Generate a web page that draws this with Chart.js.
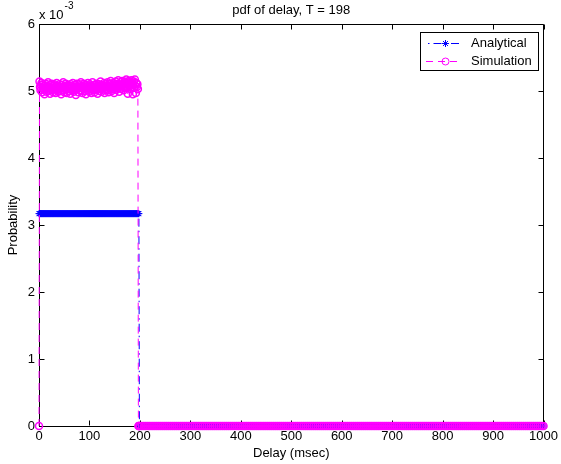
<!DOCTYPE html>
<html>
<head>
<meta charset="utf-8">
<title>pdf of delay</title>
<script src="https://cdn.jsdelivr.net/npm/chart.js@4.4.1/dist/chart.umd.min.js"></script>
<style>
  html, body { margin: 0; padding: 0; background: #fff; }
  #chart { display: block; }
</style>
</head>
<body>
<canvas id="chart" width="561" height="464"></canvas>
<script>
// === DATA ===
// delay in msec (1 ms steps up to T, 4 ms steps after)
const delayMs = [
  0, 1, 2, 3, 4, 5, 6, 7, 8, 9, 10, 11, 12, 13, 14, 15, 16, 17, 18, 19,
  20, 21, 22, 23, 24, 25, 26, 27, 28, 29, 30, 31, 32, 33, 34, 35, 36, 37, 38, 39,
  40, 41, 42, 43, 44, 45, 46, 47, 48, 49, 50, 51, 52, 53, 54, 55, 56, 57, 58, 59,
  60, 61, 62, 63, 64, 65, 66, 67, 68, 69, 70, 71, 72, 73, 74, 75, 76, 77, 78, 79,
  80, 81, 82, 83, 84, 85, 86, 87, 88, 89, 90, 91, 92, 93, 94, 95, 96, 97, 98, 99,
  100, 101, 102, 103, 104, 105, 106, 107, 108, 109, 110, 111, 112, 113, 114, 115, 116, 117, 118, 119,
  120, 121, 122, 123, 124, 125, 126, 127, 128, 129, 130, 131, 132, 133, 134, 135, 136, 137, 138, 139,
  140, 141, 142, 143, 144, 145, 146, 147, 148, 149, 150, 151, 152, 153, 154, 155, 156, 157, 158, 159,
  160, 161, 162, 163, 164, 165, 166, 167, 168, 169, 170, 171, 172, 173, 174, 175, 176, 177, 178, 179,
  180, 181, 182, 183, 184, 185, 186, 187, 188, 189, 190, 191, 192, 193, 194, 195, 196, 197, 198, 199,
  200, 204, 208, 212, 216, 220, 224, 228, 232, 236, 240, 244, 248, 252, 256, 260, 264, 268, 272, 276, 280, 284, 288, 292, 296,
  300, 304, 308, 312, 316, 320, 324, 328, 332, 336, 340, 344, 348, 352, 356, 360, 364, 368, 372, 376, 380, 384, 388, 392, 396,
  400, 404, 408, 412, 416, 420, 424, 428, 432, 436, 440, 444, 448, 452, 456, 460, 464, 468, 472, 476, 480, 484, 488, 492, 496,
  500, 504, 508, 512, 516, 520, 524, 528, 532, 536, 540, 544, 548, 552, 556, 560, 564, 568, 572, 576, 580, 584, 588, 592, 596,
  600, 604, 608, 612, 616, 620, 624, 628, 632, 636, 640, 644, 648, 652, 656, 660, 664, 668, 672, 676, 680, 684, 688, 692, 696,
  700, 704, 708, 712, 716, 720, 724, 728, 732, 736, 740, 744, 748, 752, 756, 760, 764, 768, 772, 776, 780, 784, 788, 792, 796,
  800, 804, 808, 812, 816, 820, 824, 828, 832, 836, 840, 844, 848, 852, 856, 860, 864, 868, 872, 876, 880, 884, 888, 892, 896,
  900, 904, 908, 912, 916, 920, 924, 928, 932, 936, 940, 944, 948, 952, 956, 960, 964, 968, 972, 976, 980, 984, 988, 992, 996,
  1000
];

// probabilities, in units of 1e-3 (axis shows "x 10^-3")
const analytical = [
  3.17, 3.17, 3.17, 3.17, 3.17, 3.17, 3.17, 3.17, 3.17, 3.17, 3.17, 3.17, 3.17, 3.17, 3.17, 3.17, 3.17, 3.17, 3.17, 3.17,
  3.17, 3.17, 3.17, 3.17, 3.17, 3.17, 3.17, 3.17, 3.17, 3.17, 3.17, 3.17, 3.17, 3.17, 3.17, 3.17, 3.17, 3.17, 3.17, 3.17,
  3.17, 3.17, 3.17, 3.17, 3.17, 3.17, 3.17, 3.17, 3.17, 3.17, 3.17, 3.17, 3.17, 3.17, 3.17, 3.17, 3.17, 3.17, 3.17, 3.17,
  3.17, 3.17, 3.17, 3.17, 3.17, 3.17, 3.17, 3.17, 3.17, 3.17, 3.17, 3.17, 3.17, 3.17, 3.17, 3.17, 3.17, 3.17, 3.17, 3.17,
  3.17, 3.17, 3.17, 3.17, 3.17, 3.17, 3.17, 3.17, 3.17, 3.17, 3.17, 3.17, 3.17, 3.17, 3.17, 3.17, 3.17, 3.17, 3.17, 3.17,
  3.17, 3.17, 3.17, 3.17, 3.17, 3.17, 3.17, 3.17, 3.17, 3.17, 3.17, 3.17, 3.17, 3.17, 3.17, 3.17, 3.17, 3.17, 3.17, 3.17,
  3.17, 3.17, 3.17, 3.17, 3.17, 3.17, 3.17, 3.17, 3.17, 3.17, 3.17, 3.17, 3.17, 3.17, 3.17, 3.17, 3.17, 3.17, 3.17, 3.17,
  3.17, 3.17, 3.17, 3.17, 3.17, 3.17, 3.17, 3.17, 3.17, 3.17, 3.17, 3.17, 3.17, 3.17, 3.17, 3.17, 3.17, 3.17, 3.17, 3.17,
  3.17, 3.17, 3.17, 3.17, 3.17, 3.17, 3.17, 3.17, 3.17, 3.17, 3.17, 3.17, 3.17, 3.17, 3.17, 3.17, 3.17, 3.17, 3.17, 3.17,
  3.17, 3.17, 3.17, 3.17, 3.17, 3.17, 3.17, 3.17, 3.17, 3.17, 3.17, 3.17, 3.17, 3.17, 3.17, 3.17, 3.17, 3.17, 3.17, 0,
  0, 0, 0, 0, 0,  0, 0, 0, 0, 0,  0, 0, 0, 0, 0,  0, 0, 0, 0, 0,  0, 0, 0, 0, 0,
  0, 0, 0, 0, 0,  0, 0, 0, 0, 0,  0, 0, 0, 0, 0,  0, 0, 0, 0, 0,  0, 0, 0, 0, 0,
  0, 0, 0, 0, 0,  0, 0, 0, 0, 0,  0, 0, 0, 0, 0,  0, 0, 0, 0, 0,  0, 0, 0, 0, 0,
  0, 0, 0, 0, 0,  0, 0, 0, 0, 0,  0, 0, 0, 0, 0,  0, 0, 0, 0, 0,  0, 0, 0, 0, 0,
  0, 0, 0, 0, 0,  0, 0, 0, 0, 0,  0, 0, 0, 0, 0,  0, 0, 0, 0, 0,  0, 0, 0, 0, 0,
  0, 0, 0, 0, 0,  0, 0, 0, 0, 0,  0, 0, 0, 0, 0,  0, 0, 0, 0, 0,  0, 0, 0, 0, 0,
  0, 0, 0, 0, 0,  0, 0, 0, 0, 0,  0, 0, 0, 0, 0,  0, 0, 0, 0, 0,  0, 0, 0, 0, 0,
  0, 0, 0, 0, 0,  0, 0, 0, 0, 0,  0, 0, 0, 0, 0,  0, 0, 0, 0, 0,  0, 0, 0, 0, 0,
  0
];

const simulation = [
  0,
  5.14, 5.06, 5.01, 5.09, 5.12, 4.98, 5.04, 5.10, 5.02, 5.07, 4.95, 5.05, 5.11, 5.03,
  4.99, 5.08, 5.04, 5.13, 5.00, 5.06, 5.02, 4.96, 5.09, 5.05, 5.11, 5.01, 5.07, 4.98,
  5.04, 5.10, 5.03, 5.06, 4.97, 5.08, 5.12, 5.02, 5.05, 4.99, 5.07, 5.03, 5.10, 5.00,
  5.06, 4.95, 5.04, 5.09, 5.01, 5.13, 5.05, 4.98, 5.07, 5.03, 5.11, 5.02, 4.97, 5.06,
  5.09, 5.04, 5.00, 5.08, 5.05, 4.96, 5.10, 5.03, 5.07, 5.01, 5.12, 5.04, 4.99, 5.06,
  5.02, 5.09, 4.94, 5.05, 5.11, 5.03, 5.07, 4.98, 5.04, 5.10, 5.01, 5.06, 5.13, 5.00,
  5.05, 4.97, 5.08, 5.03, 5.11, 5.06, 5.00, 5.09, 4.95, 5.04, 5.07, 5.02, 5.12, 5.05,
  4.99, 5.06, 5.10, 5.03, 5.08, 4.97, 5.05, 5.13, 5.01, 5.07, 5.04, 4.98, 5.09, 5.06,
  5.02, 5.11, 5.05, 4.96, 5.08, 5.03, 5.10, 5.00, 5.06, 5.14, 5.04, 4.99, 5.07, 5.02,
  5.09, 5.05, 5.12, 4.97, 5.06, 5.03, 5.10, 5.08, 5.01, 5.13, 5.05, 4.98, 5.07, 5.11,
  5.04, 5.15, 5.06, 5.00, 5.09, 5.03, 5.12, 5.07, 4.97, 5.10, 5.05, 5.14, 5.02, 5.08,
  5.11, 5.04, 5.16, 5.06, 4.99, 5.10, 5.07, 5.13, 5.03, 5.09, 5.15, 5.05, 5.11, 5.01,
  5.08, 5.14, 5.06, 5.12, 5.17, 5.04, 5.10, 4.96, 5.09, 5.15, 5.07, 5.13, 5.03, 5.11,
  5.16, 5.06, 5.12, 4.95, 5.09, 5.14, 5.05, 5.17, 5.08, 4.97, 5.12, 5.06, 5.10, 5.03,
  0, 0, 0,
  0, 0, 0, 0, 0,  0, 0, 0, 0, 0,  0, 0, 0, 0, 0,  0, 0, 0, 0, 0,  0, 0, 0, 0, 0,
  0, 0, 0, 0, 0,  0, 0, 0, 0, 0,  0, 0, 0, 0, 0,  0, 0, 0, 0, 0,  0, 0, 0, 0, 0,
  0, 0, 0, 0, 0,  0, 0, 0, 0, 0,  0, 0, 0, 0, 0,  0, 0, 0, 0, 0,  0, 0, 0, 0, 0,
  0, 0, 0, 0, 0,  0, 0, 0, 0, 0,  0, 0, 0, 0, 0,  0, 0, 0, 0, 0,  0, 0, 0, 0, 0,
  0, 0, 0, 0, 0,  0, 0, 0, 0, 0,  0, 0, 0, 0, 0,  0, 0, 0, 0, 0,  0, 0, 0, 0, 0,
  0, 0, 0, 0, 0,  0, 0, 0, 0, 0,  0, 0, 0, 0, 0,  0, 0, 0, 0, 0,  0, 0, 0, 0, 0,
  0, 0, 0, 0, 0,  0, 0, 0, 0, 0,  0, 0, 0, 0, 0,  0, 0, 0, 0, 0,  0, 0, 0, 0, 0,
  0, 0, 0, 0, 0,  0, 0, 0, 0, 0,  0, 0, 0, 0, 0,  0, 0, 0, 0, 0,  0, 0, 0, 0, 0,
  0
];

const xTicks = [0, 100, 200, 300, 400, 500, 600, 700, 800, 900, 1000];
const yTicks = [0, 1, 2, 3, 4, 5, 6];

if (analytical.length !== delayMs.length || simulation.length !== delayMs.length) {
  throw new Error('length mismatch ' + delayMs.length + ' ' + analytical.length + ' ' + simulation.length);
}

// === ESTILO ===
const FONT = "'Liberation Sans', Arial, Helvetica, sans-serif";
Chart.defaults.font.family = FONT;
Chart.defaults.font.size = 13;
Chart.defaults.color = '#000';

const BLUE = '#0000ff';
const MAGENTA = '#ff00ff';

const toPoints = ys => delayMs.map((x, i) => ({ x, y: ys[i] }));

// box on top/right + inward ticks, like a matlab axes
const axesBox = {
  id: 'axesBox',
  beforeDatasetsDraw(chart) {
    const { ctx, chartArea: a, scales: { x, y } } = chart;
    const L = Math.round(a.left) + 0.5, R = Math.round(a.right) - 0.5;
    const T = Math.round(a.top) + 0.5, B = Math.round(a.bottom) - 0.5;
    const tl = 5;
    ctx.save();
    ctx.strokeStyle = '#000';
    ctx.lineWidth = 1;
    ctx.beginPath();
    ctx.moveTo(L, T); ctx.lineTo(R, T); ctx.lineTo(R, B);
    for (const v of xTicks) {
      const px = Math.round(x.getPixelForValue(v)) + 0.5;
      ctx.moveTo(px, B); ctx.lineTo(px, B - tl);
      ctx.moveTo(px, T); ctx.lineTo(px, T + tl);
    }
    for (const v of yTicks) {
      const py = Math.round(y.getPixelForValue(v)) + 0.5;
      ctx.moveTo(L, py); ctx.lineTo(L + tl, py);
      ctx.moveTo(R, py); ctx.lineTo(R - tl, py);
    }
    ctx.stroke();
    ctx.restore();
  },
  afterDraw(chart) {
    const { ctx, chartArea: a } = chart;
    ctx.save();
    ctx.fillStyle = '#000';
    ctx.textBaseline = 'middle';
    ctx.textAlign = 'left';
    ctx.font = '13px ' + FONT;
    ctx.fillText('x 10', a.left, 15);
    const w = ctx.measureText('x 10').width;
    ctx.font = '10px ' + FONT;
    ctx.fillText('-3', a.left + w + 1, 6);
    ctx.restore();
  }
};

// legend box at top right, drawn with line sample + marker
const legendBox = {
  id: 'legendBox',
  afterDraw(chart) {
    const { ctx } = chart;
    const bx = 420.5, by = 32.5, bw = 118, bh = 38;
    ctx.save();
    ctx.fillStyle = '#fff';
    ctx.fillRect(bx, by, bw, bh);
    ctx.strokeStyle = '#000';
    ctx.lineWidth = 1;
    ctx.strokeRect(bx, by, bw, bh);
    const rows = [43.5, 61.5];
    chart.data.datasets.forEach((ds, i) => {
      const yy = rows[i];
      ctx.save();
      ctx.strokeStyle = ds.borderColor;
      ctx.lineWidth = ds.borderWidth;
      ctx.setLineDash(ds.borderDash);
      ctx.lineDashOffset = ds.legendDashOffset;
      ctx.beginPath();
      ctx.moveTo(426, yy); ctx.lineTo(461, yy);
      ctx.stroke();
      ctx.setLineDash([]);
      ctx.fillStyle = ds.pointBackgroundColor;
      ctx.strokeStyle = ds.pointBorderColor;
      ctx.lineWidth = 1;
      Chart.helpers.drawPoint(ctx, { pointStyle: ds.pointStyle, radius: ds.pointRadius, borderWidth: 1, rotation: 0 }, 445.5, yy);
      ctx.restore();
      ctx.fillStyle = '#000';
      ctx.font = '13px ' + FONT;
      ctx.textBaseline = 'middle';
      ctx.fillText(ds.label, 471, yy);
    });
    ctx.restore();
  }
};

const chart = new Chart(document.getElementById('chart'), {
  type: 'line',
  data: {
    datasets: [
      {
        label: 'Analytical',
        data: toPoints(analytical),
        order: 1,
        borderColor: BLUE,
        borderWidth: 1,
        borderDash: [8, 4, 1.5, 4],
        legendDashOffset: 10,
        pointStyle: 'star',
        pointRadius: 3.5,
        pointBorderColor: BLUE,
        pointBackgroundColor: BLUE,
        pointBorderWidth: 1,
        fill: false,
        tension: 0,
        clip: false
      },
      {
        label: 'Simulation',
        data: toPoints(simulation),
        order: 0,
        borderColor: MAGENTA,
        borderWidth: 1,
        borderDash: [7, 5],
        legendDashOffset: 0,
        pointStyle: 'circle',
        pointRadius: 3.5,
        pointBorderColor: MAGENTA,
        pointBackgroundColor: 'rgba(0,0,0,0)',
        pointBorderWidth: 1.5,
        fill: false,
        tension: 0,
        clip: false
      }
    ]
  },
  options: {
    responsive: false,
    animation: false,
    events: [],
    layout: { padding: { left: 0, right: 15, top: 0, bottom: 0 } },
    plugins: {
      legend: { display: false },
      tooltip: { enabled: false },
      title: {
        display: true,
        fullSize: false,
        text: 'pdf of delay, T = 198',
        color: '#000',
        font: { size: 13, weight: 'normal' },
        padding: { top: 3, bottom: 5.4 }
      }
    },
    scales: {
      x: {
        type: 'linear',
        min: 0,
        max: 1000,
        grid: { display: false, drawTicks: false },
        border: { display: true, color: '#000', width: 1 },
        ticks: { padding: 3, maxRotation: 0, autoSkip: false, color: '#000', callback: v => String(v) },
        afterBuildTicks: s => { s.ticks = xTicks.map(value => ({ value })); },
        title: { display: true, text: 'Delay (msec)', color: '#000', padding: { top: 0, bottom: 3 } },
        afterFit: s => { s.height = 38; }
      },
      y: {
        type: 'linear',
        min: 0,
        max: 6,
        grid: { display: false, drawTicks: false },
        border: { display: true, color: '#000', width: 1 },
        ticks: { padding: 4, color: '#000', callback: v => String(v) },
        afterBuildTicks: s => { s.ticks = yTicks.map(value => ({ value })); },
        title: { display: true, text: 'Probability', color: '#000', padding: { top: 6, bottom: 0 } },
        afterFit: s => { s.width = 39; }
      }
    }
  },
  plugins: [axesBox, legendBox]
});
</script>
</body>
</html>
